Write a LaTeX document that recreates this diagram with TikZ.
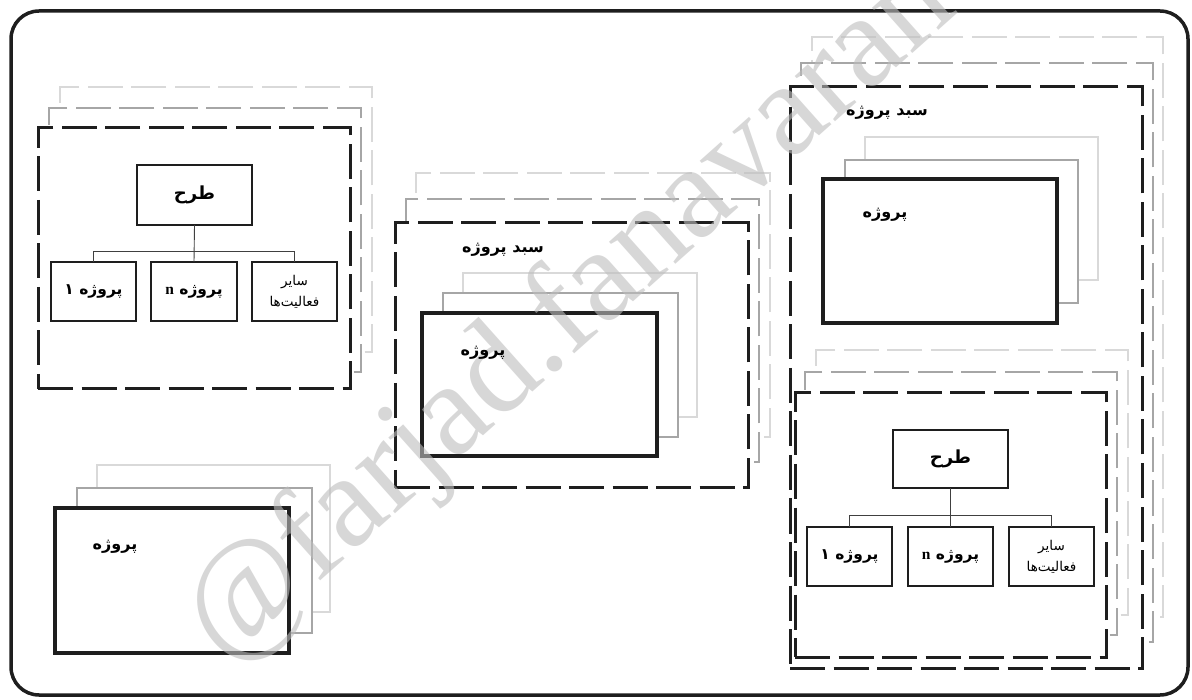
\documentclass[tikz,border=0pt]{standalone}
\usepackage{fontspec}
\newfontfamily\fa[Script=Arabic]{DejaVu Sans}
\newfontfamily\latinserif{Liberation Serif}
\TeXXeTstate=1
\definecolor{midgray}{HTML}{A6A6A6}
\definecolor{litegray}{HTML}{D9D9D9}
\definecolor{ink}{HTML}{1E1E1E}
\definecolor{wmgray}{HTML}{BDBDBD}
\tikzset{
  dashpat/.style={dash pattern=on 35pt off 8.5pt},
  grpblack/.style={draw=ink, line width=3pt, dashpat, fill=white},
  grpmid/.style={draw=midgray, line width=2.6pt, dashpat, fill=white},
  grplite/.style={draw=litegray, line width=2.6pt, dashpat, fill=white},
  projfront/.style={draw=ink, line width=3.2pt, fill=white},
  projmid/.style={draw=midgray, line width=2.8pt, fill=white},
  projlite/.style={draw=litegray, line width=2.5pt, fill=white},
  treebox/.style={draw=ink, line width=2.4pt, fill=white, align=center, font=\fa\bfseries\fontsize{15.5}{18}\selectfont},
  smallbox/.style={treebox, font=\fa\fontsize{13.5}{21}\selectfont},
  topbox/.style={treebox, font=\fa\bfseries\fontsize{18}{21}\selectfont},
  conn/.style={draw=black!75, line width=0.9pt},
  lbl/.style={font=\fa\bfseries\fontsize{16}{19}\selectfont, inner sep=0pt},
  frame/.style={draw=ink, line width=3.5pt, rounded corners=28pt},
  wm/.style={font=\latinserif\fontsize{132}{132}\selectfont, text=wmgray, text opacity=0.6, inner sep=0pt}
}
\newcommand\rbox[6]{\node[#2, inner sep=0pt, outer sep=0pt, minimum width={(#5-#3)*1pt}, minimum height={(#6-#4)*1pt}] (#1) at ({(#3+#5)/2},{(#4+#6)/2}) {};}
\newcommand\tbox[7]{\node[#2, inner sep=0pt, outer sep=0pt, minimum width={(#5-#3)*1pt}, minimum height={(#6-#4)*1pt}] (#1) at ({(#3+#5)/2},{(#4+#6)/2}) {#7};}
\newcommand\rl[1]{\beginR #1\endR}
\newcommand\pn{\beginR پروژه {\latinserif\bfseries n}\endR}
\begin{document}
\begin{tikzpicture}[x=1pt,y=-1pt]
\useasboundingbox (0,0) rectangle (1192,700);
\fill[white] (0,0) rectangle (1192,700);
\draw[frame] (11,11) rectangle (1188,695);

% ---------- left group ----------
\rbox{lgL}{grplite}{60}{87}{372}{352}
\rbox{lgM}{grpmid}{49}{108}{361}{372}
\rbox{lgB}{grpblack}{38}{128}{350}{389}
\tbox{lgT}{topbox}{137}{165}{252}{225}{\rl{طرح}}
\tbox{lgC1}{treebox}{51}{262}{136}{321}{\rl{پروژه ۱}}
\tbox{lgC2}{treebox}{151}{262}{237}{321}{\pn}
\tbox{lgC3}{smallbox}{252}{262}{337}{321}{\rl{سایر}\\\rl{فعالیت‌ها}}
\draw[conn] (lgT.south) -- (lgC2.north);
\draw[conn] (lgC1.north) -- ++(0,-11) -| (lgC3.north);

% ---------- middle group ----------
\rbox{mgL}{grplite}{416}{173}{770}{437}
\rbox{mgM}{grpmid}{406}{199}{759}{462}
\rbox{mgB}{grpblack}{395}{223}{748}{488}
\rbox{mpL}{projlite}{463}{273}{697}{417}
\rbox{mpM}{projmid}{443}{293}{678}{437}
\rbox{mpF}{projfront}{422}{313}{657}{456}

% ---------- right big group ----------
\rbox{rgL}{grplite}{812}{37}{1163}{617}
\rbox{rgM}{grpmid}{801}{63}{1153}{642}
\rbox{rgB}{grpblack}{790}{87}{1142}{668}
\rbox{rpL}{projlite}{865}{137}{1098}{280}
\rbox{rpM}{projmid}{845}{160}{1078}{303}
\rbox{rpF}{projfront}{823}{179}{1057}{323}

% ---------- right inner group ----------
\rbox{riL}{grplite}{816}{350}{1128}{615}
\rbox{riM}{grpmid}{805}{372}{1117}{635}
\rbox{riB}{grpblack}{795}{393}{1106}{657}
\tbox{riT}{topbox}{893}{430}{1008}{488}{\rl{طرح}}
\tbox{riC1}{treebox}{807}{527}{892}{586}{\rl{پروژه ۱}}
\tbox{riC2}{treebox}{908}{527}{993}{586}{\pn}
\tbox{riC3}{smallbox}{1009}{527}{1094}{586}{\rl{سایر}\\\rl{فعالیت‌ها}}
\draw[conn] (riT.south) -- (riC2.north);
\draw[conn] (riC1.north) -- ++(0,-12) -| (riC3.north);

% ---------- bottom-left project stack ----------
\rbox{bpL}{projlite}{97}{465}{330}{612}
\rbox{bpM}{projmid}{77}{488}{312}{633}
\rbox{bpF}{projfront}{55}{508}{289}{653}

% ---------- watermark ----------
\node[wm, rotate=41.7] (wmark) at (571,314) {@farjad.fanavaran};

% ---------- free labels (kept readable above the watermark) ----------
\node[lbl] (mgLbl) at (503,250) {\rl{سبد پروژه}};
\node[lbl] (mpLbl) at (483,353) {\rl{پروژه}};
\node[lbl] (rgLbl) at (887,113) {\rl{سبد پروژه}};
\node[lbl] (rpLbl) at (885,215) {\rl{پروژه}};
\node[lbl] (bpLbl) at (115,547) {\rl{پروژه}};
\end{tikzpicture}
\end{document}
